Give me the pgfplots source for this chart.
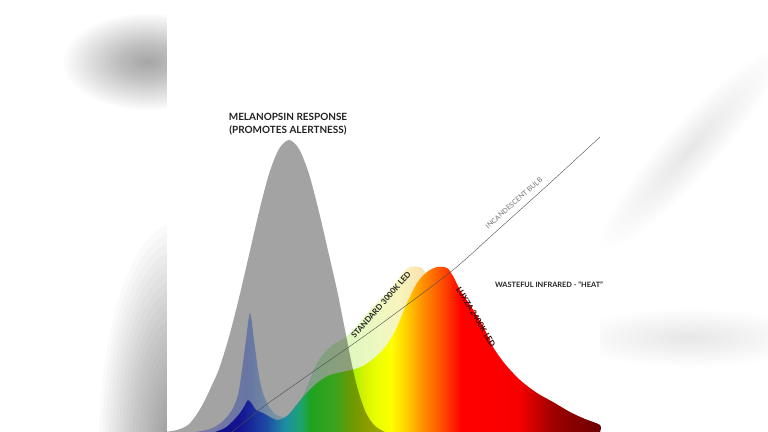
\documentclass[border=0pt]{standalone}
\usepackage{fontspec}
\setmainfont{Lato}
\usepackage{pgfplots}
\pgfplotsset{compat=1.18}

% spectrum colours (Luxza 2400K LED)
\definecolor{lx0}{HTML}{1919D8}
\definecolor{lx1}{HTML}{2020E6}
\definecolor{lx2}{HTML}{3070FF}
\definecolor{lx3}{HTML}{30E0FF}
\definecolor{lx4}{HTML}{30FFB0}
\definecolor{lx5}{HTML}{30FF30}
\definecolor{lx6}{HTML}{60FF30}
\definecolor{lx7}{HTML}{A6F000}
\definecolor{lx8}{HTML}{E0F500}
\definecolor{lx9}{HTML}{E8FF00}
\definecolor{lx10}{HTML}{FFFF00}
\definecolor{lx11}{HTML}{FFD000}
\definecolor{lx12}{HTML}{FFA000}
\definecolor{lx13}{HTML}{FF5000}
\definecolor{lx14}{HTML}{FF0000}
\definecolor{lx15}{HTML}{F80000}
\definecolor{lx16}{HTML}{A00000}
\definecolor{lx17}{HTML}{6A0000}
% pale colours (standard 3000K LED)
\definecolor{st0}{HTML}{C0BEFF}
\definecolor{st1}{HTML}{A8B8FF}
\definecolor{st2}{HTML}{A3BBFF}
\definecolor{st3}{HTML}{C0F0FF}
\definecolor{st4}{HTML}{CCFACA}
\definecolor{st5}{HTML}{E0F8C0}
\definecolor{st6}{HTML}{EEF8C0}
\definecolor{st7}{HTML}{F8F4BC}
\definecolor{st8}{HTML}{FAE8B4}
\definecolor{st9}{HTML}{F8DCB0}
\definecolor{st10}{HTML}{F8C8B0}
\definecolor{melgray}{HTML}{A3A3A3}
\definecolor{txt}{HTML}{222222}

\pgfdeclarehorizontalshading{luxza}{100bp}{color(0bp)=(lx0); color(25bp)=(lx0);
  color(28.25bp)=(lx1); color(31.49bp)=(lx2); color(34.09bp)=(lx3);
  color(36.04bp)=(lx4); color(37.34bp)=(lx5); color(40.58bp)=(lx6);
  color(42.53bp)=(lx7); color(44.74bp)=(lx8); color(45.78bp)=(lx9);
  color(47.73bp)=(lx10); color(49.68bp)=(lx11); color(51.23bp)=(lx12);
  color(54.22bp)=(lx13); color(56.82bp)=(lx14); color(64.22bp)=(lx15);
  color(68.51bp)=(lx16); color(75bp)=(lx17); color(100bp)=(lx17)}

\pgfdeclarehorizontalshading{standard}{100bp}{color(0bp)=(st0); color(25bp)=(st0);
  color(31.06bp)=(st1); color(33.33bp)=(st2); color(37.88bp)=(st3);
  color(43.94bp)=(st4); color(48.48bp)=(st5); color(53.03bp)=(st6);
  color(56.06bp)=(st7); color(58.33bp)=(st8); color(60.61bp)=(st9);
  color(75bp)=(st10); color(100bp)=(st10)}

\begin{document}
\begin{tikzpicture}
\begin{axis}[
    width=768bp, height=432bp, scale only axis,
    xmin=0, xmax=768, ymin=0, ymax=432,
    y dir=reverse,
    hide axis,
    clip=true,
  ]
% background and blurred side panels (stacked translucent ellipses)
\fill[white] (axis cs:0,0) rectangle (axis cs:768,432);
\pgfplotsinvokeforeach{1,...,24}{
  \fill[black, opacity=0.0146] (axis cs:148,62) ellipse [x radius={3.5bp*#1}, y radius={2bp*#1}];
  \fill[black, opacity=0.021] (axis cs:178,450) ellipse [x radius={3.3bp*#1}, y radius={9.5bp*#1}];
  \fill[black, opacity=0.0045, rotate around={48:(axis cs:690,150)}]
    (axis cs:690,150) ellipse [x radius={5.5bp*#1}, y radius={1.1bp*#1}];
  \fill[black, opacity=0.0045] (axis cs:690,338) ellipse [x radius={5bp*#1}, y radius={1.2bp*#1}];
}
\fill[white] (axis cs:167,0) rectangle (axis cs:600,432);

% standard 3000K LED
\addplot[draw=none, shade, shading=standard, smooth, tension=0.5] coordinates {
  (195,432) (210,429) (222,422) (232,410) (238,395) (242,370) (246,340)
  (250,313) (254,340) (258,370) (262,390) (268,405) (275,414) (283,417)
  (290,415) (297,408) (307,387) (317,363) (330,347) (347,336) (360,322)
  (373,307) (390,290) (403,273) (410,267) (420,267) (425,272) (430,285)
  (440,310) (460,355) (480,392) (500,418) (515,430) (525,432)
};

% Luxza 2400K LED
\addplot[draw=none, shade, shading=luxza, smooth, tension=0.5] coordinates {
  (215,432) (225,428) (233,421) (240,413) (245,405) (248,400) (252,404)
  (256,410) (263,413) (270,417) (277,420) (284,418) (290,413) (303,397)
  (317,383) (330,375) (347,371) (363,366) (380,353) (390,340) (397,327)
  (407,303) (417,283) (427,272) (437,267) (447,268) (453,276) (460,290)
  (470,305) (477,316) (485,330) (493,347) (505,364) (520,380) (537,393)
  (553,402) (570,412) (585,419) (600,425) (600,432)
};

% melanopsin response
\addplot[draw=none, fill=melgray, blend mode=multiply, smooth, tension=0.5] coordinates {
  (165,432) (177,430) (188,425) (197,414) (205,400) (212,385) (219,369)
  (229,337) (239,298) (249,255) (259,212) (269,174) (279,149) (289,140)
  (299,149) (309,174) (319,212) (329,255) (337,290) (345,330) (352,365)
  (358,390) (366,413) (375,426) (385,432)
};

% incandescent bulb
\addplot[black!70, line width=0.4pt, smooth] coordinates {
  (232,432) (263,407) (297,383) (330,360) (363,337) (400,310)
  (453,270) (500,228) (550,183) (600,137)
};

% labels
\node[font=\fontsize{10}{13}\selectfont\bfseries, align=center, text=txt]
  at (axis cs:288,124.5) {MELANOPSIN RESPONSE\\(PROMOTES ALERTNESS)};
\node[font=\fontsize{8}{9}\selectfont\bfseries, text=txt, rotate=48.6]
  at (axis cs:381,305) {STANDARD 3000K LED};
\node[font=\fontsize{8}{9}\selectfont\bfseries, text=black!80!red, rotate=-59]
  at (axis cs:476,317) {LUXZA 2400K LED};
\node[font=\fontsize{7}{8}\selectfont, text=black!55, rotate=41.6]
  at (axis cs:514,203) {INCANDESCENT BULB};
\node[font=\fontsize{7.4}{8}\selectfont\bfseries, text=txt]
  at (axis cs:549,285) {WASTEFUL INFRARED - ``HEAT''};
\end{axis}
\end{tikzpicture}
\end{document}
